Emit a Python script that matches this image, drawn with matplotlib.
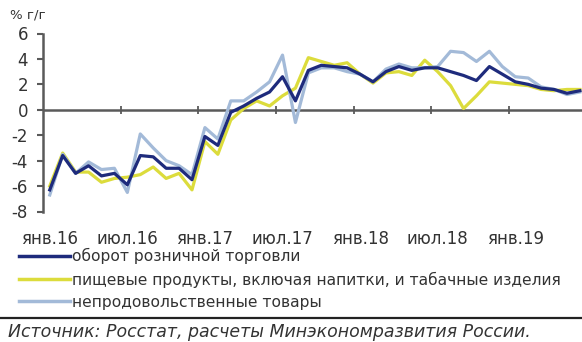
import numpy as np
import matplotlib
matplotlib.use("Agg")
import matplotlib.pyplot as plt
from matplotlib.lines import Line2D

plt.rcParams['font.family'] = ['DejaVu Sans']

# Monthly year-on-year growth, Jan 2016 onwards (%)
retail = [-6.3, -3.6, -5.0, -4.4, -5.2, -5.0, -5.9, -3.6, -3.7, -4.6, -4.6, -5.5,
          -2.1, -2.8, -0.2, 0.3, 0.9, 1.4, 2.6, 0.7, 3.1, 3.5, 3.4, 3.3,
          2.8, 2.2, 3.0, 3.4, 3.1, 3.3, 3.3, 3.0, 2.7, 2.3, 3.4, 2.8,
          2.2, 2.0, 1.7, 1.6, 1.3, 1.5]
food = [-6.0, -3.4, -4.9, -4.9, -5.7, -5.4, -5.3, -5.1, -4.5, -5.4, -5.0, -6.3,
        -2.5, -3.5, -0.8, 0.1, 0.7, 0.3, 1.1, 1.7, 4.1, 3.8, 3.5, 3.7,
        2.8, 2.1, 2.9, 3.0, 2.7, 3.9, 3.0, 1.9, 0.1, 1.1, 2.2, 2.1,
        2.0, 1.9, 1.6, 1.5, 1.6, 1.6]
nonfood = [-6.7, -3.5, -5.0, -4.1, -4.7, -4.6, -6.5, -1.9, -3.0, -4.0, -4.4, -5.1,
           -1.4, -2.3, 0.7, 0.7, 1.4, 2.2, 4.3, -1.0, 2.9, 3.3, 3.3, 3.0,
           2.8, 2.2, 3.2, 3.6, 3.3, 3.3, 3.4, 4.6, 4.5, 3.8, 4.6, 3.4,
           2.6, 2.5, 1.8, 1.6, 1.2, 1.4]

series_names = ["оборот розничной торговли",
                "пищевые продукты, включая напитки, и табачные изделия",
                "непродовольственные товары"]
tick_labels = ["янв.16", "июл.16", "янв.17", "июл.17", "янв.18", "июл.18", "янв.19"]
y_ticks = [6, 4, 2, 0, -2, -4, -6, -8]

C_DARK = "#1e2b7c"
C_YEL = "#dcdc3c"
C_LIGHT = "#a3bad8"
C_AXIS = "#5a5a5a"
C_TEXT = "#333333"

W, H = 582, 342
fig = plt.figure(figsize=(W / 100, H / 100), dpi=100)

left_px, right_px, top_px, bot_px = 43.3, 582.0, 33.5, 211.5
ax = fig.add_axes([left_px / W, 1 - bot_px / H, (right_px - left_px) / W, (bot_px - top_px) / H])

x = np.arange(len(retail))
ax.plot(x, food, color=C_YEL, lw=2.3, solid_joinstyle='round', zorder=3)
ax.plot(x, nonfood, color=C_LIGHT, lw=2.3, solid_joinstyle='round', zorder=4)
ax.plot(x, retail, color=C_DARK, lw=2.3, solid_joinstyle='round', zorder=5)

ax.set_ylim(-8, 6)
ax.set_xlim(-0.5, -0.5 + (right_px - left_px) / 12.93)
ax.set_yticks(y_ticks)
ax.set_yticklabels([str(v) for v in y_ticks], fontsize=12, color=C_TEXT)
ax.tick_params(axis='y', direction='out', length=4, width=1.5, color=C_AXIS, pad=7)

for s in ['top', 'right', 'bottom']:
    ax.spines[s].set_visible(False)
ax.spines['left'].set_color(C_AXIS)
ax.spines['left'].set_linewidth(1.8)

# month labels under the plot, one every six months
ax.set_xticks(np.arange(len(tick_labels)) * 6)
ax.set_xticklabels(tick_labels, fontsize=12, color=C_TEXT)
ax.tick_params(axis='x', length=0, pad=13)

# zero axis with half-year tick marks
ax.axhline(0, color=C_AXIS, lw=1.8, zorder=2)
zero_ax = ax.secondary_xaxis(8 / 14)
zero_ax.set_xticks(np.arange(5.5, len(retail), 6))
zero_ax.tick_params(axis='x', which='both', direction='inout', length=6, width=1.3,
                    color=C_AXIS, labelbottom=False, labeltop=False,
                    top=False, bottom=True)
for s in zero_ax.spines.values():
    s.set_visible(False)

fig.text(10 / W, 1 - 15 / H, "% г/г", fontsize=9.5, color=C_TEXT, va='center', ha='left')

handles = [Line2D([], [], color=c, lw=2.5) for c in (C_DARK, C_YEL, C_LIGHT)]
fig.legend(handles, series_names, loc='upper left', bbox_to_anchor=(19 / W, 1 - 248 / H),
           frameon=False, fontsize=11.2, handlelength=3.3, handletextpad=0.08,
           labelspacing=0.47, borderaxespad=0, borderpad=0, labelcolor=C_TEXT)

fig.add_artist(Line2D([0, 1], [1 - 318 / H, 1 - 318 / H], color="#222222", lw=1.6,
                      transform=fig.transFigure))
fig.text(8 / W, 1 - 332 / H, "Источник: Росстат, расчеты Минэкономразвития России.",
         fontsize=12.5, style='italic', color=C_TEXT, va='center', ha='left')

fig.savefig("out.png", dpi=100)
